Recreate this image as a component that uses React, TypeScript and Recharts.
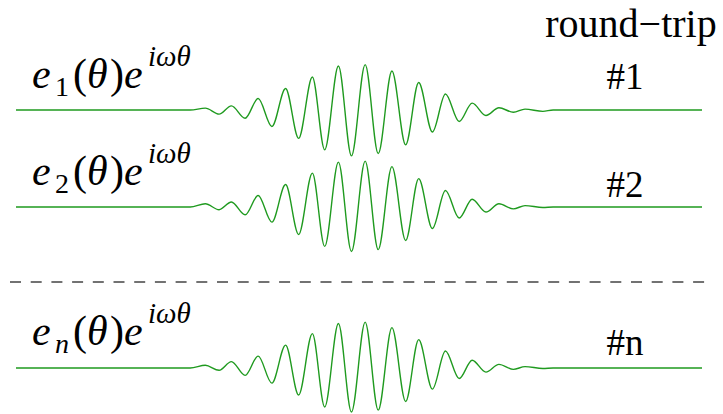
import React from 'react';
import { LineChart, Line, XAxis, YAxis } from 'recharts';

// theta positions (percent of the round trip) of the flat ends and of each extremum
const THETA = [
  0, 25.4,
  27.6, 29.6, 31.4, 33.4, 35.3, 37.3, 39.3, 41.2, 43.2, 45.0, 47.0, 48.9, 50.9,
  52.8, 54.8, 56.8, 58.7, 60.7, 62.6, 64.6, 66.5, 68.5, 70.4, 72.5, 74.2, 76.8, 78.3,
  80.8, 100,
];

// field amplitude at each theta (peak = 1)
const TRIP_1 = [
  0, 0,
  0.04, -0.09, 0.09, -0.18, 0.25, -0.36, 0.47, -0.62, 0.72, -0.87, 0.96, -1.0, 0.99,
  -0.95, 0.85, -0.76, 0.6, -0.48, 0.35, -0.25, 0.15, -0.12, 0.05, -0.05, 0.02, -0.03, 0,
  0, 0,
];
const TRIP_2 = [
  0, 0,
  0.07, -0.06, 0.11, -0.17, 0.25, -0.33, 0.49, -0.6, 0.74, -0.86, 0.98, -0.97, 1.0,
  -0.93, 0.88, -0.73, 0.62, -0.47, 0.36, -0.24, 0.17, -0.11, 0.07, -0.04, 0.03, -0.01, 0,
  0, 0,
];
const TRIP_N = [
  0, 0,
  0.06, -0.05, 0.14, -0.16, 0.26, -0.33, 0.5, -0.59, 0.75, -0.85, 0.97, -0.96, 1.0,
  -0.92, 0.88, -0.73, 0.62, -0.46, 0.37, -0.23, 0.17, -0.09, 0.08, -0.03, 0.03, -0.01, 0,
  0, 0,
];

const SUBSCRIPTS = ['1', '2', 'n'];
const TRIP_LABELS = ['#1', '#2', '#n'];
const HEADER = 'round\u2212trip';

// layout
const W = 723;
const H = 414;
const ROW_H = 110;
const GREEN = '#1f9a1f';
const FONT = "'Liberation Serif', 'Times New Roman', serif";
const rows = [
  { amp: TRIP_1, base: 110, mathY: 88, tripY: 89 },
  { amp: TRIP_2, base: 207, mathY: 185, tripY: 197 },
  { amp: TRIP_N, base: 368, mathY: 345, tripY: 355 },
];

// e_k(θ)e^{iωθ}, each piece placed by hand like TeX would
const MathLabel: React.FC<{ y: number; sub: string }> = ({ y, sub }) => {
  const subItalic = isNaN(Number(sub));
  return (
    <g style={{ fontFamily: FONT }} fill="#000">
      <text x={32} y={y} fontSize={42} fontStyle="italic">e</text>
      <text x={55} y={y + 8} fontSize={28} fontStyle={subItalic ? 'italic' : 'normal'}>{sub}</text>
      <text x={73} y={y} fontSize={42}>(</text>
      <text x={87} y={y} fontSize={42} fontStyle="italic">θ</text>
      <text x={110} y={y} fontSize={42}>)</text>
      <text x={124} y={y} fontSize={42} fontStyle="italic">e</text>
      <text x={148} y={y - 22} fontSize={29} fontStyle="italic">iωθ</text>
    </g>
  );
};

const App: React.FC = () => {
  return (
    <div style={{ position: 'absolute', left: 0, top: 0, width: W, height: H, overflow: 'hidden', background: '#fff' }}>
      {rows.map((row, r) => {
        const data = THETA.map((t, i) => ({ theta: t, amp: row.amp[i] }));
        return (
          <div key={r} style={{ position: 'absolute', left: 0, top: row.base - ROW_H / 2 }}>
            <LineChart width={W} height={ROW_H} data={data} margin={{ top: 0, right: 21, bottom: 0, left: 16 }}>
              <XAxis dataKey="theta" type="number" domain={[0, 100]} hide />
              <YAxis type="number" domain={[-1.2, 1.2]} hide />
              <Line
                type="monotone"
                dataKey="amp"
                stroke={GREEN}
                strokeWidth={1.4}
                dot={false}
                isAnimationActive={false}
              />
            </LineChart>
          </div>
        );
      })}
      <svg width={W} height={H} style={{ position: 'absolute', left: 0, top: 0, pointerEvents: 'none' }}>
        <text x={631} y={37} style={{ fontFamily: FONT }} fontSize={40} textAnchor="middle">{HEADER}</text>
        {rows.map((row, r) => (
          <g key={r}>
            <MathLabel y={row.mathY} sub={SUBSCRIPTS[r]} />
            <text x={625} y={row.tripY} style={{ fontFamily: FONT }} fontSize={37} textAnchor="middle">{TRIP_LABELS[r]}</text>
          </g>
        ))}
        <line x1={10} x2={705} y1={282} y2={282} stroke="#444" strokeWidth={1.5} strokeDasharray="11 9.7" />
      </svg>
    </div>
  );
};

export default App;
